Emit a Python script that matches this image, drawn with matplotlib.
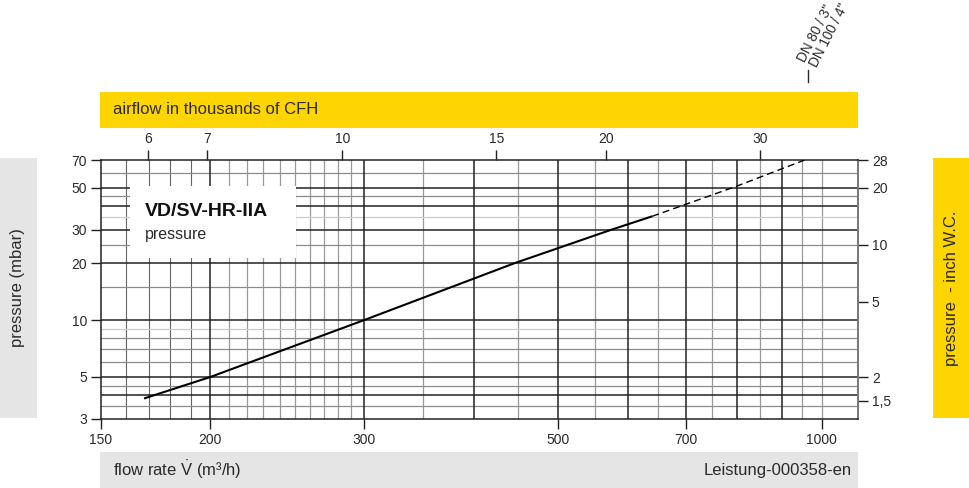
import matplotlib
matplotlib.use("Agg")
import matplotlib.pyplot as plt
from matplotlib.patches import Rectangle
from matplotlib.lines import Line2D
from matplotlib.ticker import NullLocator, FixedLocator, FixedFormatter

plt.rcParams["font.family"] = ["Liberation Sans", "DejaVu Sans"]
plt.rcParams["mathtext.fontset"] = "custom"
plt.rcParams["mathtext.rm"] = "Liberation Sans"

# ── data ───────────────────────────────────────────────────────────────────
flow_solid = [168, 200, 300, 446, 575, 640]          # m³/h
press_solid = [3.85, 5.0, 10.0, 20.0, 30.0, 35.3]    # mbar
flow_dash = [640, 800, 956]
press_dash = [35.3, 51.0, 70.0]

x_ticks = [150, 200, 300, 500, 700, 1000]
y_ticks = [3, 5, 10, 20, 30, 50, 70]
cfh_ticks = [6, 7, 10, 15, 20, 30]
cfh_labels = ["6", "7", "10", "15", "20", "30"]
inch_ticks = [28, 20, 10, 5, 2, 1.5]
inch_labels = ["28", "20", "10", "5", "2", "1,5"]

# grid lines
v_major = [200, 300, 400, 500, 600, 700, 800, 900]
v_minor_dark = [160, 170, 180, 190]
v_minor = [210, 220, 230, 240, 250, 260, 270, 280, 290,
           350, 450, 550, 650, 750, 850, 950, 1000]
h_major = [4, 5, 10, 20, 30, 40, 50]
h_minor = [3.5, 4.5, 6, 7, 8, 15, 25, 45, 60]
h_light = [9, 35]

YELLOW = "#FFD500"
GREYBAND = "#E5E5E5"
TXT = "#2a2a2a"
DARK = "#222222"
MID = "#999999"

W, H = 970, 488
fig = plt.figure(figsize=(W / 100, H / 100), dpi=100)
fig.patch.set_facecolor("white")


def fx(px):
    return px / W


def fy(py):
    return 1 - py / H


ax = fig.add_axes([fx(101), fy(419), (858 - 101) / W, (419 - 160) / H])
ax.set_xscale("log")
ax.set_yscale("log")
ax.set_xlim(150, 1100)
ax.set_ylim(3, 70)

# ── grid ───────────────────────────────────────────────────────────────────
for v in v_minor:
    ax.axvline(v, color=MID, lw=0.9, zorder=1)
for v in v_minor_dark:
    ax.axvline(v, color="#666666", lw=0.8, zorder=1)
for v in v_major:
    ax.axvline(v, color=DARK, lw=1.1, zorder=2)
for h in h_light:
    ax.axhline(h, color="#cccccc", lw=0.9, zorder=1)
for h in h_minor:
    ax.axhline(h, color="#8c8c8c", lw=0.9, zorder=1)
for h in h_major:
    ax.axhline(h, color=DARK, lw=1.1, zorder=2)

# ── curve ──────────────────────────────────────────────────────────────────
ax.plot(flow_solid, press_solid, color="black", lw=1.5, zorder=5,
        solid_capstyle="butt")
ax.plot(flow_dash, press_dash, color="black", lw=1.0, zorder=5,
        linestyle=(0, (5, 3)))

# title box
ax.add_patch(Rectangle((0.0383, 0.6216), 0.2193, 0.278, transform=ax.transAxes,
                       facecolor="white", edgecolor="none", zorder=4))
ax.text(0.058, 0.80, "VD/SV-HR-IIA", transform=ax.transAxes, fontsize=14,
        fontweight="bold", color="#111111", va="center", ha="left", zorder=6)
ax.text(0.058, 0.713, "pressure", transform=ax.transAxes, fontsize=11.5,
        color=TXT, va="center", ha="left", zorder=6)

# ── axes / ticks ───────────────────────────────────────────────────────────
for side in ["left", "bottom", "top"]:
    ax.spines[side].set_color(DARK)
    ax.spines[side].set_linewidth(1.1)
ax.spines["right"].set_color("#777777")
ax.spines["right"].set_linewidth(1.4)

ax.xaxis.set_major_locator(FixedLocator(x_ticks))
ax.xaxis.set_major_formatter(FixedFormatter([str(v) for v in x_ticks]))
ax.xaxis.set_minor_locator(NullLocator())
ax.yaxis.set_major_locator(FixedLocator(y_ticks))
ax.yaxis.set_major_formatter(FixedFormatter([str(v) for v in y_ticks]))
ax.yaxis.set_minor_locator(NullLocator())
ax.tick_params(axis="both", which="major", direction="out", length=7,
               width=1.0, color=DARK, labelsize=10, labelcolor=TXT, pad=3)

top = ax.secondary_xaxis("top", functions=(lambda q: q * 35.3147 / 1000,
                                           lambda c: c * 1000 / 35.3147))
top.xaxis.set_major_locator(FixedLocator(cfh_ticks))
top.xaxis.set_major_formatter(FixedFormatter(cfh_labels))
top.xaxis.set_minor_locator(NullLocator())
top.tick_params(direction="out", length=7, width=1.0, color=DARK,
                labelsize=10, labelcolor=TXT, pad=3)
top.spines["top"].set_visible(False)

right = ax.secondary_yaxis("right", functions=(lambda p: p / 2.4908,
                                               lambda i: i * 2.4908))
right.yaxis.set_major_locator(FixedLocator(inch_ticks))
right.yaxis.set_major_formatter(FixedFormatter(inch_labels))
right.yaxis.set_minor_locator(NullLocator())
right.tick_params(direction="out", length=7, width=1.0, color=DARK,
                  labelsize=10, labelcolor=TXT, pad=3)
right.spines["right"].set_visible(False)

# ── bands ──────────────────────────────────────────────────────────────────
def band(x0, y0, x1, y1, color):
    fig.add_artist(Rectangle((fx(x0), fy(y1)), fx(x1 - x0), (y1 - y0) / H,
                             transform=fig.transFigure, facecolor=color,
                             edgecolor="none", zorder=0))


band(100, 92, 858, 128, YELLOW)
band(100, 452, 858, 488, GREYBAND)
band(0, 158, 37, 418, GREYBAND)
band(933, 158, 970, 418, YELLOW)

fig.text(fx(113), fy(110), "airflow in thousands of CFH", fontsize=12,
         color=TXT, va="center", ha="left")
fig.text(fx(113), fy(470), r"flow rate $\dot{\mathrm{V}}$ (m³/h)", fontsize=12,
         color=TXT, va="center", ha="left")
fig.text(fx(852), fy(470), "Leistung-000358-en", fontsize=12,
         color=TXT, va="center", ha="right")
fig.text(fx(18), fy(288), "pressure (mbar)", fontsize=12, color=TXT,
         rotation=90, va="center", ha="center")
fig.text(fx(952), fy(288), "pressure  - inch W.C.", fontsize=12, color=TXT,
         rotation=90, va="center", ha="center")

# DN legend at top right
fig.add_artist(Line2D([fx(808), fx(808)], [fy(70), fy(82)],
                      transform=fig.transFigure, color=TXT, lw=1.0))
fig.text(fx(805), fy(63), "DN 80 / 3\"", fontsize=9.8, color=TXT,
         rotation=63, rotation_mode="anchor", ha="left", va="baseline")
fig.text(fx(817), fy(68), "DN 100 / 4\"", fontsize=9.8, color=TXT,
         rotation=63, rotation_mode="anchor", ha="left", va="baseline")

fig.savefig("out.png", dpi=100, facecolor="white")
